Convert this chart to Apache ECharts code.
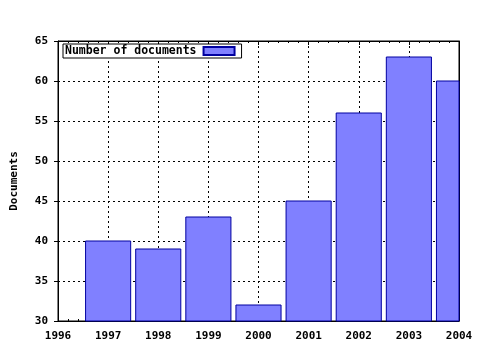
<!DOCTYPE html>
<html>
<head>
<meta charset="utf-8">
<script src="https://cdn.jsdelivr.net/npm/echarts@6/dist/echarts.min.js"></script>
<style>html,body{margin:0;padding:0;background:#fff}#c{width:480px;height:350px}</style>
</head>
<body>
<div id="c"></div>
<script>
const years = [1997, 1998, 1999, 2000, 2001, 2002, 2003, 2004];
const documents = [40, 39, 43, 32, 45, 56, 63, 60];
const seriesName = 'Number of documents';
const yAxisName = 'Documents';

const FONT = '"DejaVu Sans Mono", monospace';
const chart = echarts.init(document.getElementById('c'));
const gridLine = { show: true, lineStyle: { color: '#000', type: [2, 3], width: 1 } };

chart.setOption({
  animation: false,
  backgroundColor: '#fff',
  grid: { left: 58, right: 21, top: 41, bottom: 29, show: true, borderColor: '#000', borderWidth: 1, backgroundColor: 'transparent' },
  legend: {
    data: [{ name: seriesName, icon: 'rect' }],
    left: 63, top: 44,
    align: 'right',
    itemWidth: 31, itemHeight: 8,
    itemGap: 6,
    padding: [1, 6, 1, 2],
    borderColor: '#000', borderWidth: 1, backgroundColor: '#fff',
    borderRadius: 0,
    textStyle: { fontFamily: FONT, fontWeight: 'bold', fontSize: 11.5, color: '#000', padding: [0, 2, 0, 0] }
  },
  xAxis: [{
    type: 'value', min: 1996, max: 2004, interval: 1, position: 'bottom',
    axisLine: { show: true, lineStyle: { color: '#000' } },
    axisTick: { show: true, inside: true, length: 4, lineStyle: { color: '#000' } },
    minorTick: { show: true, splitNumber: 5, length: 2, lineStyle: { color: '#000' } },
    axisLabel: { fontFamily: FONT, fontWeight: 'bold', fontSize: 11, color: '#000', margin: 10, formatter: v => String(v) },
    splitLine: gridLine
  }, {
    type: 'value', min: 1996, max: 2004, interval: 1, position: 'top',
    axisLine: { show: true, lineStyle: { color: '#000' } },
    axisTick: { show: true, inside: true, length: 4, lineStyle: { color: '#000' } },
    minorTick: { show: true, splitNumber: 5, length: 2, lineStyle: { color: '#000' } },
    axisLabel: { show: false },
    splitLine: { show: false }
  }],
  yAxis: [{
    type: 'value', min: 30, max: 65, interval: 5, position: 'left',
    name: yAxisName, nameLocation: 'middle', nameGap: 38, nameRotate: 90,
    nameTextStyle: { fontFamily: FONT, fontWeight: 'bold', fontSize: 11, color: '#000' },
    axisLine: { show: true, lineStyle: { color: '#000' } },
    axisTick: { show: true, length: 4, lineStyle: { color: '#000' } },
    axisLabel: { fontFamily: FONT, fontWeight: 'bold', fontSize: 11, color: '#000', margin: 10 },
    splitLine: gridLine
  }, {
    type: 'value', min: 30, max: 65, interval: 5, position: 'right',
    axisLine: { show: true, lineStyle: { color: '#000' } },
    axisTick: { show: false }, axisLabel: { show: false }, splitLine: { show: false }
  }],
  series: [{
    name: seriesName,
    type: 'custom',
    xAxisIndex: 0, yAxisIndex: 0,
    itemStyle: { color: '#8080ff', borderColor: '#0000a0', borderWidth: 1 },
    data: years.map((y, i) => [y, documents[i]]),
    renderItem: function (params, api) {
      const p0 = api.coord([api.value(0) - 0.45, api.value(1)]);
      const p1 = api.coord([api.value(0) + 0.45, 30]);
      const cs = params.coordSys;
      const rect = echarts.graphic.clipRectByRect(
        { x: p0[0], y: p0[1], width: p1[0] - p0[0], height: p1[1] - p0[1] },
        { x: cs.x, y: cs.y, width: cs.width, height: cs.height }
      );
      if (!rect) return;
      return { type: 'rect', shape: rect, style: { fill: '#8080ff', stroke: '#0000a0', lineWidth: 1 } };
    }
  }]
});
</script>
</body>
</html>
